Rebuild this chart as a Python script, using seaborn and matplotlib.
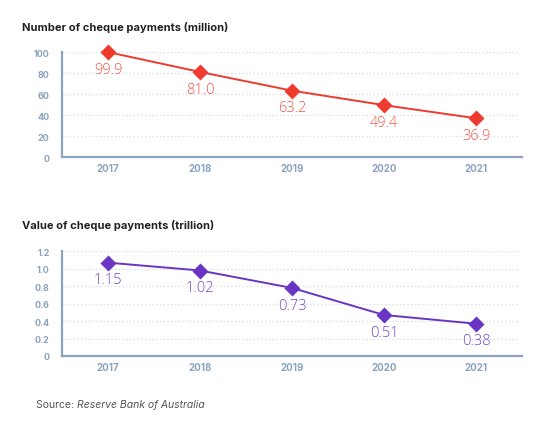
import matplotlib
matplotlib.use("Agg")
import matplotlib.pyplot as plt
import seaborn as sns
import pandas as pd

years = ["2017", "2018", "2019", "2020", "2021"]
number_million = [99.9, 81.0, 63.2, 49.4, 36.9]
number_labels = ["99.9", "81.0", "63.2", "49.4", "36.9"]
# plotted positions (labels differ from the drawn points)
value_trillion = [1.07, 0.98, 0.78, 0.47, 0.37]
value_labels = ["1.15", "1.02", "0.73", "0.51", "0.38"]

number_ticks = [0, 20, 40, 60, 80, 100]
value_ticks = [0, 0.2, 0.4, 0.6, 0.8, 1.0, 1.2]
value_ticklabels = ["0", "0.2", "0.4", "0.6", "0.8", "1.0", "1.2"]

sns.set_style("white")
plt.rcParams["font.family"] = ["Inter", "DejaVu Sans"]

axis_col = "#8ba3bf"
grid_col = "#d3dae3"

fig = plt.figure(figsize=(5.45, 4.31), dpi=100)
ax1 = fig.add_axes([0.1138, 0.6334, 0.844, 0.2436])
ax2 = fig.add_axes([0.1138, 0.1717, 0.844, 0.2429])


def style_axis(ax, ticks, ticklabels, top):
    ax.set_xlim(-0.5, 4.5)
    ax.set_ylim(0, top)
    ax.set_yticks(ticks)
    ax.set_yticklabels(ticklabels)
    for t in ticks[1:]:
        ax.plot([-0.5, 4.45], [t, t], color=grid_col, lw=0.9, ls=(0, (1, 2)), zorder=0)
    for s in ["top", "right"]:
        ax.spines[s].set_visible(False)
    for s in ["left", "bottom"]:
        ax.spines[s].set_color(axis_col)
        ax.spines[s].set_linewidth(1.6)
    ax.set_xticks(range(len(years)))
    ax.set_xticklabels(years)
    ax.set_xticks([0.5, 1.5, 2.5, 3.5], minor=True)
    ax.tick_params(axis="x", which="major", length=0, pad=4, labelsize=7,
                   labelcolor=axis_col)
    ax.tick_params(axis="x", which="minor", length=5, width=1.4, direction="in",
                   color=axis_col)
    ax.tick_params(axis="y", length=4, width=1.2, color=axis_col, pad=5,
                   labelsize=6.5, labelcolor=axis_col)
    for lab in ax.get_xticklabels() + ax.get_yticklabels():
        lab.set_fontweight("bold")
    ax.set_xlabel("")
    ax.set_ylabel("")
    ax.grid(False)


def draw_series(ax, vals, labels, line_col, text_col):
    df = pd.DataFrame({"year": years, "val": vals})
    sns.pointplot(data=df, x="year", y="val", ax=ax, color=line_col, markers="D",
                  markersize=7, linewidth=1.4, errorbar=None)
    for c in ax.collections + ax.lines:
        c.set_clip_on(False)
    for i, (v, lab) in enumerate(zip(vals, labels)):
        ax.annotate(lab, (i, v), xytext=(0, -7), textcoords="offset points",
                    ha="center", va="top", fontsize=10.5, color=text_col,
                    family=["Open Sans", "DejaVu Sans"], fontweight="light")


draw_series(ax1, number_million, number_labels, "#ee3a2f", "#f0564a")
style_axis(ax1, number_ticks, [str(t) for t in number_ticks], 100)

draw_series(ax2, value_trillion, value_labels, "#6a35c2", "#7445c8")
style_axis(ax2, value_ticks, value_ticklabels, 1.2)

fig.text(0.04, 0.937, "Number of cheque payments (million)", fontsize=8,
         fontweight="bold", color="#222222", va="center")
fig.text(0.04, 0.476, "Value of cheque payments (trillion)", fontsize=8,
         fontweight="bold", color="#222222", va="center")

src = fig.text(0.066, 0.06, "Source: ", fontsize=7.5, color="#555555", va="center")
fig.canvas.draw()
bb = src.get_window_extent()
fig.text(bb.x1 / fig.bbox.width, 0.06, "Reserve Bank of Australia", fontsize=7.5,
         color="#555555", style="italic", va="center")

fig.savefig("out.png", dpi=100)
